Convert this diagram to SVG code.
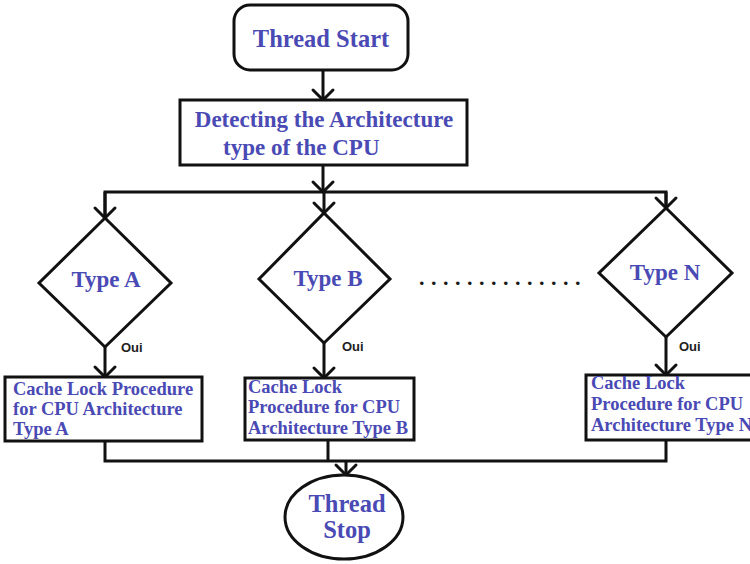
<svg xmlns="http://www.w3.org/2000/svg" width="750" height="564" viewBox="0 0 750 564">
  <style>
    .shape { fill: #ffffff; stroke: #111111; stroke-width: 3; }
    .wire { fill: none; stroke: #111111; stroke-width: 3; }
    .lbl { font-family: "Liberation Serif", "Times New Roman", serif; font-weight: bold; fill: #4a4ab4; }
    .big { font-size: 24.5px; }
    .mid { font-size: 23px; }
    .small { font-size: 18.5px; }
    .oui { font-family: "Liberation Sans", Arial, sans-serif; font-weight: bold; font-size: 13px; fill: #222222; }
    .dots { font-family: "Liberation Serif", "Times New Roman", serif; font-weight: bold; font-size: 22px; fill: #1a1a1a; letter-spacing: 6.5px; }
  </style>
  <defs>
    <marker id="arrow" markerUnits="userSpaceOnUse" viewBox="-12 -12 24 24" markerWidth="24" markerHeight="24" refX="0" refY="0" orient="auto" overflow="visible">
      <path d="M-10,-10 L0,0 L-10,10" fill="none" stroke="#111111" stroke-width="3" stroke-linecap="round" stroke-linejoin="round"/>
    </marker>
  </defs>
  <rect width="750" height="564" fill="#ffffff"/>

  <!-- connectors -->
  <g id="connectors">
    <line class="wire" x1="323" y1="70" x2="323" y2="100" marker-end="url(#arrow)"/>
    <line class="wire" x1="323" y1="165" x2="323" y2="192" marker-end="url(#arrow)"/>
    <polyline class="wire" points="105,218 105,192 666,192 666,208"/>
    <line class="wire" x1="105" y1="192" x2="105" y2="218" marker-end="url(#arrow)"/>
    <line class="wire" x1="324" y1="192" x2="324" y2="213" marker-end="url(#arrow)"/>
    <line class="wire" x1="666" y1="192" x2="666" y2="208" marker-end="url(#arrow)"/>
    <line class="wire" x1="105" y1="347" x2="105" y2="377" marker-end="url(#arrow)"/>
    <line class="wire" x1="324" y1="343" x2="324" y2="378" marker-end="url(#arrow)"/>
    <line class="wire" x1="666" y1="337" x2="666" y2="375" marker-end="url(#arrow)"/>
    <text class="oui" x="121" y="352">Oui</text>
    <text class="oui" x="342" y="351">Oui</text>
    <text class="oui" x="679" y="351">Oui</text>
    <polyline class="wire" points="105,441 105,461 666,461 666,440"/>
    <line class="wire" x1="328" y1="440" x2="328" y2="461"/>
    <line class="wire" x1="346" y1="461" x2="346" y2="475" marker-end="url(#arrow)"/>
  </g>

  <!-- start -->
  <g id="thread-start">
    <rect class="shape" x="234" y="5" width="174" height="65" rx="16" ry="16"/>
    <text class="lbl big" x="321" y="47" text-anchor="middle">Thread Start</text>
  </g>

  <!-- CPU detection -->
  <g id="detect-cpu">
    <rect class="shape" x="180" y="100" width="287" height="65"/>
    <text class="lbl mid" x="324" y="127" text-anchor="middle">Detecting the Architecture</text>
    <text class="lbl mid" x="223" y="155">type of the CPU</text>
  </g>

  <!-- decisions -->
  <g id="type-a">
    <polygon class="shape" points="105,218 171,283 105,347 39,283"/>
    <text class="lbl mid" x="106" y="287" text-anchor="middle">Type A</text>
  </g>
  <g id="type-b">
    <polygon class="shape" points="324,213 390,279 324,343 259,279"/>
    <text class="lbl mid" x="328" y="286" text-anchor="middle">Type B</text>
  </g>
  <g id="type-n">
    <polygon class="shape" points="666,208 732,273 666,337 599,273"/>
    <text class="lbl mid" x="665" y="280" text-anchor="middle">Type N</text>
  </g>
  <text class="dots" x="419" y="285">..............</text>

  <!-- procedures -->
  <g id="proc-a">
    <rect class="shape" x="5" y="377" width="197" height="64"/>
    <text class="lbl small" x="13" y="395">Cache Lock Procedure</text>
    <text class="lbl small" x="13" y="415">for CPU Architecture</text>
    <text class="lbl small" x="13" y="435">Type A</text>
  </g>
  <g id="proc-b">
    <rect class="shape" x="245" y="378" width="169" height="62"/>
    <text class="lbl small" x="248" y="393">Cache Lock</text>
    <text class="lbl small" x="248" y="413">Procedure for CPU</text>
    <text class="lbl small" x="248" y="434">Architecture Type B</text>
  </g>
  <g id="proc-n">
    <rect class="shape" x="586" y="375" width="180" height="65"/>
    <text class="lbl small" x="591" y="389">Cache Lock</text>
    <text class="lbl small" x="591" y="410">Procedure for CPU</text>
    <text class="lbl small" x="591" y="431">Architecture Type N</text>
  </g>

  <!-- stop -->
  <g id="thread-stop">
    <ellipse class="shape" cx="344" cy="517" rx="59" ry="42"/>
    <text class="lbl big" x="347" y="512" text-anchor="middle">Thread</text>
    <text class="lbl big" x="347" y="538" text-anchor="middle">Stop</text>
  </g>
</svg>
